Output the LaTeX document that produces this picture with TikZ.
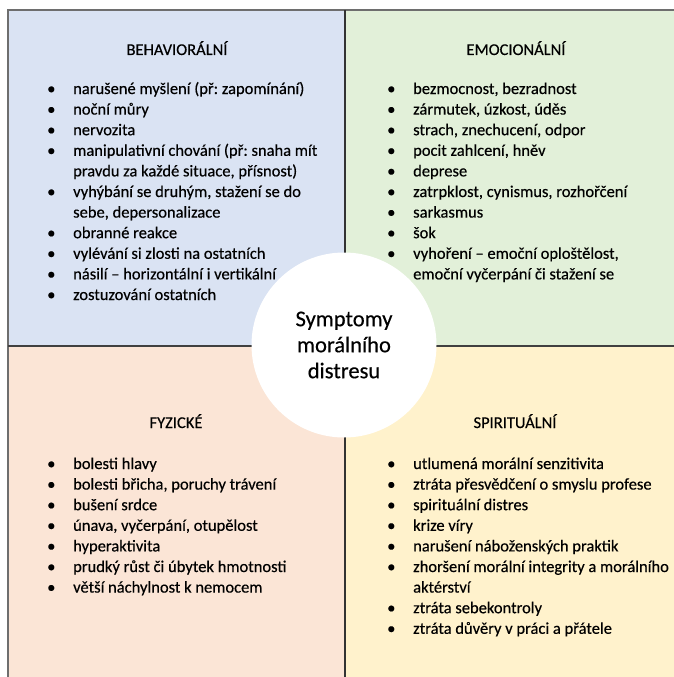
\documentclass[tikz,border=0pt]{standalone}
\usepackage{fontspec}
\setmainfont{Carlito}[FakeBold=0.4]
\frenchspacing
\definecolor{behav}{HTML}{DAE3F3}
\definecolor{emoc}{HTML}{E2F0D9}
\definecolor{fyz}{HTML}{FBE5D6}
\definecolor{spir}{HTML}{FFF2CC}
\definecolor{rule}{HTML}{6E6E6E}
\newcommand{\bul}{\makebox[26pt][l]{\textbullet}}
\begin{document}
\begin{tikzpicture}[x=1pt,y=-1pt,
  itm/.style={anchor=base west,inner sep=0pt,font=\fontsize{16.5}{20.6}\selectfont},
  hd/.style={anchor=base,inner sep=0pt,font=\fontsize{16.5}{20.6}\selectfont}]
\useasboundingbox (0,0) rectangle (674,677);
\fill[behav] (8,10) rectangle (345,346);
\fill[emoc] (345,10) rectangle (674,346);
\fill[fyz] (8,346) rectangle (345,677);
\fill[spir] (345,346) rectangle (674,677);
\draw[rule, line width=1.5pt] (8,677) -- (8,10) -- (674,10);
\draw[black!75, line width=1.5pt] (8,346) -- (674,346);
\draw[black!80, line width=2.2pt] (345,10) -- (345,677);
\path (344,345) node[circle, fill=white, minimum size=185pt, inner sep=0pt, align=center,
  font=\fontsize{22.5}{26}\selectfont] (c) {Symptomy\\morálního\\distresu};
% behavioralni
\path (177,55) node[hd] (bh) {BEHAVIORÁLNÍ};
\path (47,94) node[itm] (b1) {\bul narušené myšlení (př: zapomínání)};
\path (47,114.6) node[itm] (b2) {\bul noční můry};
\path (47,135.2) node[itm] (b3) {\bul nervozita};
\path (47,155.8) node[itm] (b4) {\bul manipulativní chování (př: snaha mít};
\path (73,176.4) node[itm] (b4a) {pravdu za každé situace, přísnost)};
\path (47,197) node[itm] (b5) {\bul vyhýbání se druhým, stažení se do};
\path (73,217.6) node[itm] (b5a) {sebe, depersonalizace};
\path (47,238.2) node[itm] (b6) {\bul obranné reakce};
\path (47,258.8) node[itm] (b7) {\bul vylévání si zlosti na ostatních};
\path (47,279.4) node[itm] (b8) {\bul násilí – horizontální i vertikální};
\path (47,300) node[itm] (b9) {\bul zostuzování ostatních};
% emocionalni
\path (516,55) node[hd] (eh) {EMOCIONÁLNÍ};
\path (387,94) node[itm] (e1) {\bul bezmocnost, bezradnost};
\path (387,114.6) node[itm] (e2) {\bul zármutek, úzkost, úděs};
\path (387,135.2) node[itm] (e3) {\bul strach, znechucení, odpor};
\path (387,155.8) node[itm] (e4) {\bul pocit zahlcení, hněv};
\path (387,176.4) node[itm] (e5) {\bul deprese};
\path (387,197) node[itm] (e6) {\bul zatrpklost, cynismus, rozhořčení};
\path (387,217.6) node[itm] (e7) {\bul sarkasmus};
\path (387,238.2) node[itm] (e8) {\bul šok};
\path (387,258.8) node[itm] (e9) {\bul vyhoření – emoční oploštělost,};
\path (413,279.4) node[itm] (e9a) {emoční vyčerpání či stažení se};
% fyzicke
\path (176,428) node[hd] (fh) {FYZICKÉ};
\path (47,469) node[itm] (f1) {\bul bolesti hlavy};
\path (47,489.6) node[itm] (f2) {\bul bolesti břicha, poruchy trávení};
\path (47,510.2) node[itm] (f3) {\bul bušení srdce};
\path (47,530.8) node[itm] (f4) {\bul únava, vyčerpání, otupělost};
\path (47,551.4) node[itm] (f5) {\bul hyperaktivita};
\path (47,572) node[itm] (f6) {\bul prudký růst či úbytek hmotnosti};
\path (47,592.6) node[itm] (f7) {\bul větší náchylnost k nemocem};
% spiritualni
\path (515,428) node[hd] (sh) {SPIRITUÁLNÍ};
\path (387,469) node[itm] (s1) {\bul utlumená morální senzitivita};
\path (387,489.6) node[itm] (s2) {\bul ztráta přesvědčení o smyslu profese};
\path (387,510.2) node[itm] (s3) {\bul spirituální distres};
\path (387,530.8) node[itm] (s4) {\bul krize víry};
\path (387,551.4) node[itm] (s5) {\bul narušení náboženských praktik};
\path (387,572) node[itm] (s6) {\bul zhoršení morální integrity a morálního};
\path (413,592.6) node[itm] (s6a) {aktérství};
\path (387,613.2) node[itm] (s7) {\bul ztráta sebekontroly};
\path (387,633.8) node[itm] (s8) {\bul ztráta důvěry v práci a přátele};
\end{tikzpicture}
\end{document}
